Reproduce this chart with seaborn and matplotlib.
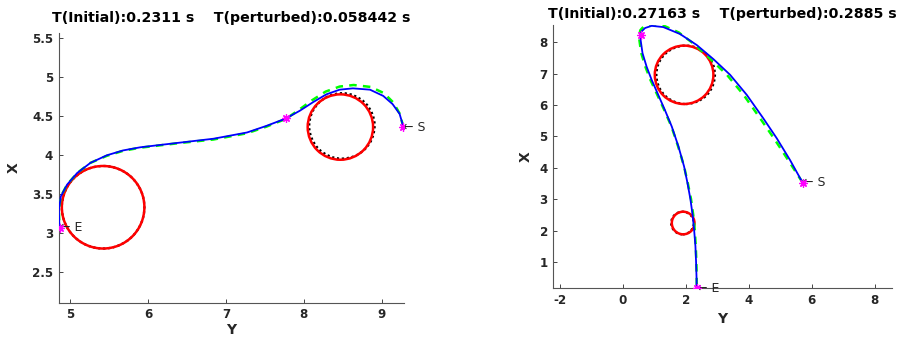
import numpy as np
import pandas as pd
import matplotlib
matplotlib.use("Agg")
import matplotlib.pyplot as plt
from matplotlib.patches import Circle
import seaborn as sns

# ---- left panel data (Y horizontal, X vertical) ----
left_blue_y = [9.28, 9.23, 9.14, 9.02, 8.85, 8.63, 8.46, 8.29, 8.12, 7.95, 7.77, 7.52, 7.27,
               6.84, 6.41, 5.90, 5.68, 5.47, 5.26, 5.09, 4.96, 4.88, 4.855, 4.86, 4.87]
left_blue_x = [4.36, 4.53, 4.655, 4.76, 4.84, 4.857, 4.84, 4.78, 4.68, 4.57, 4.47, 4.375, 4.29,
               4.21, 4.16, 4.10, 4.06, 3.997, 3.90, 3.77, 3.62, 3.47, 3.30, 3.13, 3.07]
left_green_y = [9.28, 9.23, 9.15, 9.03, 8.86, 8.64, 8.46, 8.28, 8.10, 7.93, 7.77, 7.52, 7.27,
                6.84, 6.41, 5.90, 5.68, 5.47, 5.26, 5.09, 4.96, 4.88, 4.855, 4.86, 4.87]
left_green_x = [4.36, 4.535, 4.675, 4.795, 4.875, 4.90, 4.88, 4.815, 4.70, 4.575, 4.465, 4.365, 4.28,
                4.20, 4.155, 4.095, 4.055, 3.99, 3.90, 3.77, 3.62, 3.47, 3.30, 3.13, 3.07]
left_stars_y = [9.28, 7.77, 4.87]
left_stars_x = [4.36, 4.47, 3.07]
left_obst = [(5.423, 3.33, 0.53), (8.47, 4.36, 0.42)]        # red (y, x, r)
left_obst_pert = [(5.423, 3.33, 0.53), (8.49, 4.375, 0.42)]  # black dotted
left_title = "T(Initial):0.2311 s    T(perturbed):0.058442 s"

# ---- right panel data ----
right_blue_y = [5.71, 5.31, 4.89, 4.46, 3.94, 3.41, 2.88, 2.35, 1.82, 1.29, 0.92, 0.71, 0.60, 0.57,
                0.57, 0.63, 0.76, 0.92, 1.13, 1.34, 1.56, 1.77, 1.95, 2.06, 2.15, 2.22, 2.27,
                2.31, 2.33, 2.345, 2.35]
right_blue_x = [3.53, 4.25, 4.94, 5.58, 6.32, 6.96, 7.46, 7.91, 8.26, 8.48, 8.52, 8.45, 8.34, 8.23,
                8.07, 7.65, 7.22, 6.80, 6.32, 5.84, 5.31, 4.68, 4.04, 3.50, 3.00, 2.50, 2.00,
                1.50, 1.00, 0.50, 0.17]
right_green_y = [5.71, 5.25, 4.80, 4.36, 3.84, 3.31, 2.79, 2.28, 1.78, 1.27, 0.92, 0.68, 0.56, 0.53,
                 0.53, 0.59, 0.72, 0.88, 1.10, 1.32, 1.55, 1.76, 1.95, 2.07, 2.17, 2.24, 2.29,
                 2.32, 2.34, 2.35, 2.35]
right_green_x = [3.53, 4.25, 4.94, 5.58, 6.32, 6.96, 7.46, 7.93, 8.31, 8.54, 8.58, 8.51, 8.38, 8.23,
                 8.07, 7.65, 7.22, 6.80, 6.32, 5.84, 5.31, 4.68, 4.04, 3.50, 3.00, 2.50, 2.00,
                 1.50, 1.00, 0.50, 0.17]
right_stars_y = [5.71, 0.57, 2.35]
right_stars_x = [3.53, 8.23, 0.17]
right_obst = [(1.95, 6.96, 0.93), (1.92, 2.24, 0.36)]
right_obst_pert = [(2.00, 6.96, 0.93), (1.90, 2.24, 0.36)]
right_title = "T(Initial):0.27163 s    T(perturbed):0.2885 s"

sns.set_style("white")
plt.rcParams["font.family"] = ["DejaVu Sans"]
plt.rcParams["axes.unicode_minus"] = False
TXT = "#262626"

fig = plt.figure(figsize=(8.98, 3.39), dpi=100)
ax_l = fig.add_axes([0.0654, 0.107, 0.3845, 0.7957])
ax_r = fig.add_axes([0.6162, 0.1504, 0.3768, 0.7758])


def draw(ax, by, bx, gy, gx, sy, sx, obst, obst_p, title, xlim, ylim, xt, yt, ytl,
         title_pad, ylab_pad, xlab_pad):
    for (cy, cx, r) in obst_p:
        ax.add_patch(Circle((cy, cx), r, fill=False, ec="black", lw=1.6, ls=(0, (1, 1.2)), zorder=2))
    for (cy, cx, r) in obst:
        ax.add_patch(Circle((cy, cx), r, fill=False, ec="#ff0000", lw=1.8, zorder=3))
    g = pd.DataFrame({"Y": gy, "X": gx})
    b = pd.DataFrame({"Y": by, "X": bx})
    sns.lineplot(data=g, x="Y", y="X", sort=False, estimator=None, ax=ax,
                 color="#00ff00", lw=1.8, zorder=4)
    ax.lines[-1].set_linestyle((0, (3, 2.5)))
    sns.lineplot(data=b, x="Y", y="X", sort=False, estimator=None, ax=ax,
                 color="#0000ff", lw=1.3, zorder=5)
    ax.plot(sy, sx, ls="none", marker=(8, 2, 0), ms=6, mew=0.9, color="#ff00ff", zorder=6)
    ax.text(sy[0], sx[0], "\u2190 S", fontsize=9, color=TXT, va="center", ha="left")
    ax.text(sy[-1], sx[-1], "\u2190 E", fontsize=9, color=TXT, va="center", ha="left")
    ax.set_xlim(*xlim)
    ax.set_ylim(*ylim)
    ax.set_xticks(xt)
    ax.set_yticks(yt)
    ax.set_yticklabels(ytl)
    ax.tick_params(direction="in", length=3, width=0.6, colors=TXT, labelsize=8.6, pad=4,
                   bottom=True, left=True)
    for lab in ax.get_xticklabels() + ax.get_yticklabels():
        lab.set_fontweight("bold")
    for s in ["top", "right"]:
        ax.spines[s].set_visible(False)
    for s in ["left", "bottom"]:
        ax.spines[s].set_color("#555555")
        ax.spines[s].set_linewidth(0.8)
    ax.set_xlabel("Y", fontsize=10, fontweight="bold", color=TXT, labelpad=xlab_pad)
    ax.set_ylabel("X", fontsize=10, fontweight="bold", color=TXT, labelpad=ylab_pad)
    ax.set_title(title, fontsize=10.2, fontweight="bold", color="black", pad=title_pad)


draw(ax_l, left_blue_y, left_blue_x, left_green_y, left_green_x, left_stars_y, left_stars_x,
     left_obst, left_obst_pert, left_title, (4.853, 9.287), (2.104, 5.568),
     [5, 6, 7, 8, 9], [2.5, 3, 3.5, 4, 4.5, 5, 5.5], ["2.5", "3", "3.5", "4", "4.5", "5", "5.5"],
     8, 8, 1.5)

draw(ax_r, right_blue_y, right_blue_x, right_green_y, right_green_x, right_stars_y, right_stars_x,
     right_obst, right_obst_pert, right_title, (-2.2, 8.54), (0.17, 8.546),
     [-2, 0, 2, 4, 6, 8], [1, 2, 3, 4, 5, 6, 7, 8], [str(v) for v in range(1, 9)],
     5, 5, 4)

fig.savefig("out.png", dpi=100)
